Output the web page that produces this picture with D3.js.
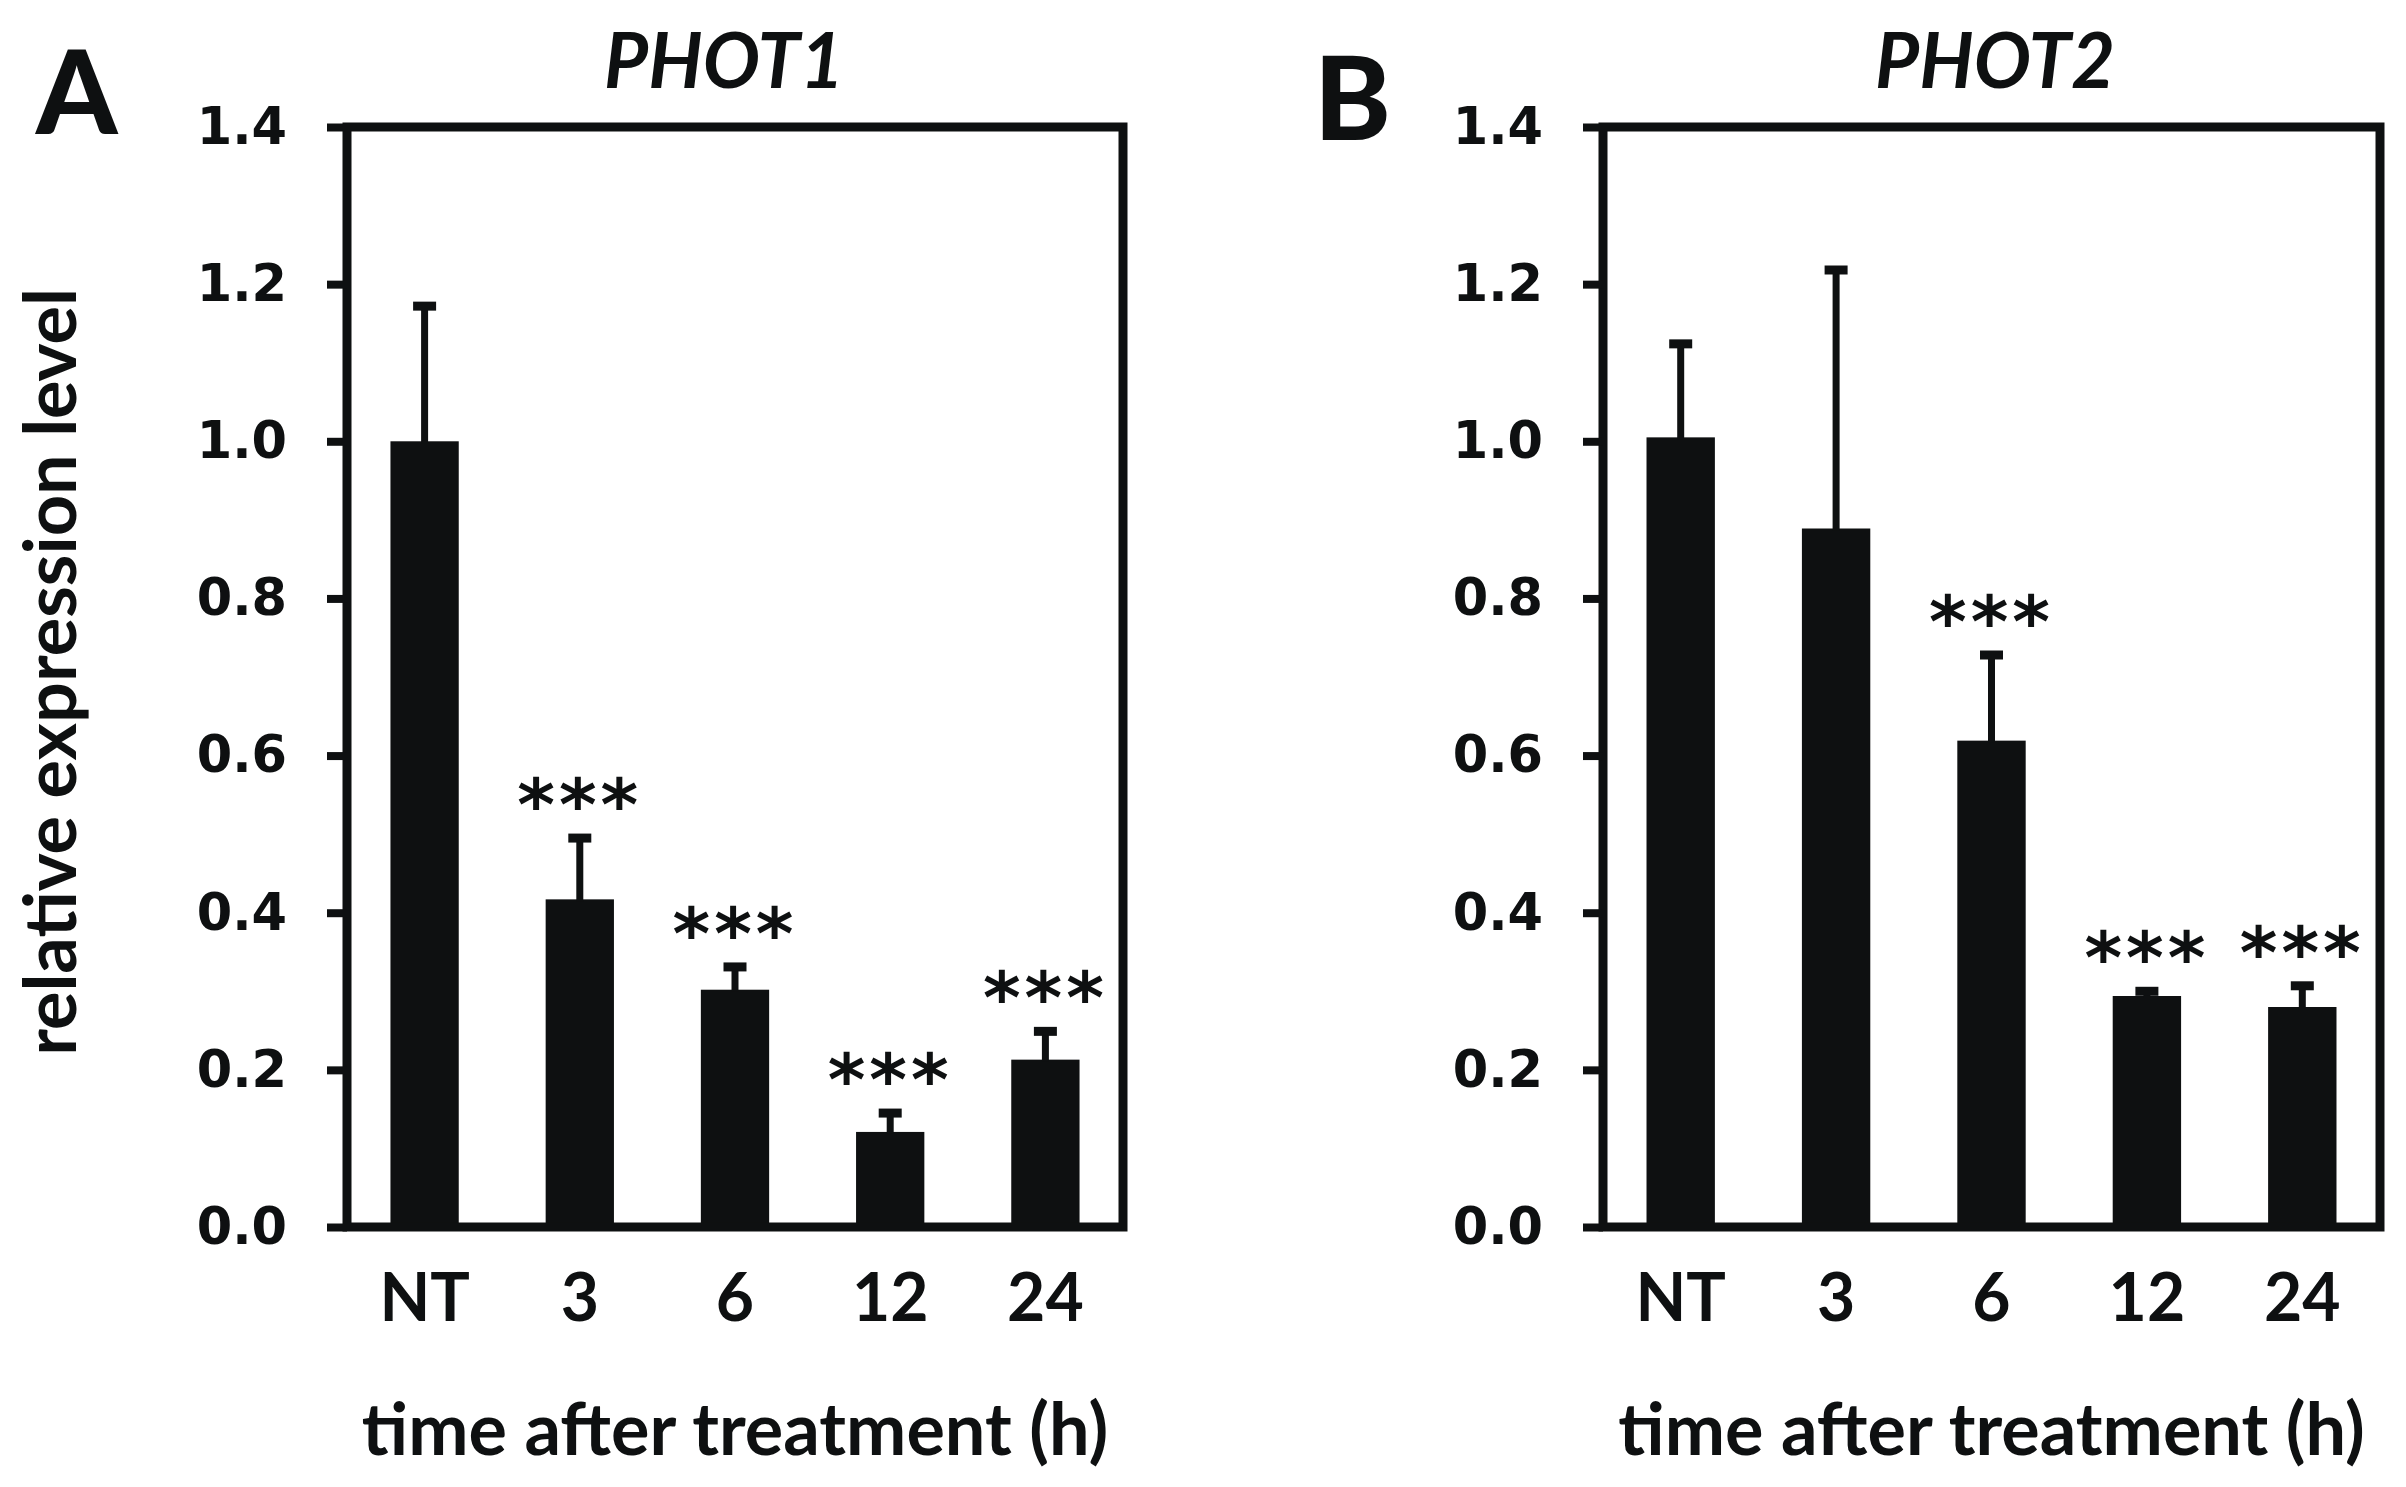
<!DOCTYPE html>
<html>
<head>
<meta charset="utf-8">
<script src="https://cdn.jsdelivr.net/npm/d3@7/dist/d3.min.js"></script>
<style>
  html, body { margin: 0; padding: 0; background: #fff; }
  svg { display: block; }
</style>
</head>
<body>
<svg id="chart" width="2406" height="1487"></svg>
<script>
// ---------------- data ----------------
const categories = ["NT", "3", "6", "12", "24"];
const phot1Mean = [1.0, 0.417, 0.302, 0.121, 0.213];
const phot1Err  = [0.172, 0.078, 0.029, 0.024, 0.036];
const phot1Sig  = ["", "***", "***", "***", "***"];
const phot2Mean = [1.005, 0.889, 0.619, 0.294, 0.280];
const phot2Err  = [0.119, 0.329, 0.109, 0.006, 0.027];
const phot2Sig  = ["", "", "***", "***", "***"];
const yTickValues = [0, 0.2, 0.4, 0.6, 0.8, 1.0, 1.2, 1.4];
const yTickLabels = ["0.0", "0.2", "0.4", "0.6", "0.8", "1.0", "1.2", "1.4"];
const panelLetters = ["A", "B"];
const panelTitles = ["PHOT1", "PHOT2"];
const yAxisTitle = "relative expression level";
const xAxisTitle = "time after treatment (h)";

// ---------------- layout ----------------
const svg = d3.select("#chart");
const INK = "#0e1011";
const SANS = "Lato, 'Open Sans', sans-serif";
const NUM = "'DejaVu Sans', Verdana, sans-serif";

const panels = [
  { left: 347, right: 1123, mean: phot1Mean, err: phot1Err, sig: phot1Sig,
    letterX: 36, letterY: 134, titleX: 724 },
  { left: 1603, right: 2380, mean: phot2Mean, err: phot2Err, sig: phot2Sig,
    letterX: 1314, letterY: 140, titleX: 1995 }
];
const plotTop = 127, plotBottom = 1227;

const y = d3.scaleLinear().domain([0, 1.4]).range([plotBottom, plotTop]);

panels.forEach((p, i) => {
  const g = svg.append("g");
  const x = d3.scaleBand().domain(categories).range([p.left, p.right])
    .paddingInner(0.56).paddingOuter(0.28);

  // bars
  g.selectAll("rect.bar").data(categories).join("rect")
    .attr("class", "bar")
    .attr("x", d => x(d))
    .attr("width", x.bandwidth())
    .attr("y", (d, k) => y(p.mean[k]))
    .attr("height", (d, k) => y(0) - y(p.mean[k]))
    .attr("fill", INK);

  // error bars (upper only)
  g.selectAll("line.err").data(categories).join("line")
    .attr("class", "err")
    .attr("x1", d => x(d) + x.bandwidth() / 2)
    .attr("x2", d => x(d) + x.bandwidth() / 2)
    .attr("y1", (d, k) => y(p.mean[k]) + 2)
    .attr("y2", (d, k) => y(p.mean[k] + p.err[k]))
    .attr("stroke", INK).attr("stroke-width", 7);
  g.selectAll("line.cap").data(categories).join("line")
    .attr("class", "cap")
    .attr("x1", d => x(d) + x.bandwidth() / 2 - 11.5)
    .attr("x2", d => x(d) + x.bandwidth() / 2 + 11.5)
    .attr("y1", (d, k) => y(p.mean[k] + p.err[k]))
    .attr("y2", (d, k) => y(p.mean[k] + p.err[k]))
    .attr("stroke", INK).attr("stroke-width", 9);

  // significance stars
  g.selectAll("text.sig").data(categories).join("text")
    .attr("class", "sig")
    .attr("x", d => x(d) + x.bandwidth() / 2)
    .attr("y", (d, k) => y(p.mean[k] + p.err[k]) - 8)
    .attr("text-anchor", "middle")
    .attr("font-family", NUM).attr("font-weight", "bold")
    .attr("font-size", 72).attr("letter-spacing", 4)
    .attr("fill", INK)
    .text((d, k) => p.sig[k]);

  // frame
  g.append("rect")
    .attr("x", p.left).attr("y", plotTop)
    .attr("width", p.right - p.left).attr("height", plotBottom - plotTop)
    .attr("fill", "none").attr("stroke", INK).attr("stroke-width", 9);

  // y axis
  const yAxis = d3.axisLeft(y).tickValues(yTickValues)
    .tickFormat((d, k) => yTickLabels[k])
    .tickSizeInner(20).tickSizeOuter(0).tickPadding(40);
  const ya = g.append("g").attr("transform", `translate(${p.left},0)`).call(yAxis);
  ya.select(".domain").remove();
  ya.selectAll(".tick line").attr("stroke", INK).attr("stroke-width", 8);
  ya.selectAll(".tick text")
    .attr("font-family", NUM).attr("font-weight", "bold")
    .attr("font-size", 51).attr("fill", INK);

  // x axis labels
  const xAxis = d3.axisBottom(x).tickSize(0).tickPadding(0);
  const xa = g.append("g").attr("transform", `translate(0,${plotBottom})`).call(xAxis);
  xa.select(".domain").remove();
  xa.selectAll(".tick text")
    .attr("y", 94).attr("dy", 0)
    .attr("font-family", SANS).attr("font-weight", "bold")
    .attr("font-size", 66).attr("fill", INK);

  // x axis title
  g.append("text")
    .attr("x", (p.left + p.right) / 2).attr("y", 1455)
    .attr("text-anchor", "middle")
    .attr("font-family", SANS).attr("font-weight", "bold")
    .attr("font-size", 72).attr("fill", INK)
    .text(xAxisTitle);

  // panel title
  g.append("text")
    .attr("x", p.titleX).attr("y", 88)
    .attr("text-anchor", "middle")
    .attr("font-family", SANS).attr("font-weight", "bold").attr("font-style", "italic")
    .attr("font-size", 76).attr("fill", INK)
    .text(panelTitles[i]);

  // panel letter
  g.append("text")
    .attr("x", p.letterX).attr("y", p.letterY)
    .attr("font-family", SANS).attr("font-weight", "900")
    .attr("font-size", 116).attr("fill", INK)
    .text(panelLetters[i]);
});

// y axis title (panel A only)
svg.append("text")
  .attr("transform", `translate(76,672) rotate(-90)`)
  .attr("text-anchor", "middle")
  .attr("font-family", SANS).attr("font-weight", "bold")
  .attr("font-size", 72).attr("fill", INK)
  .text(yAxisTitle);
</script>
</body>
</html>
